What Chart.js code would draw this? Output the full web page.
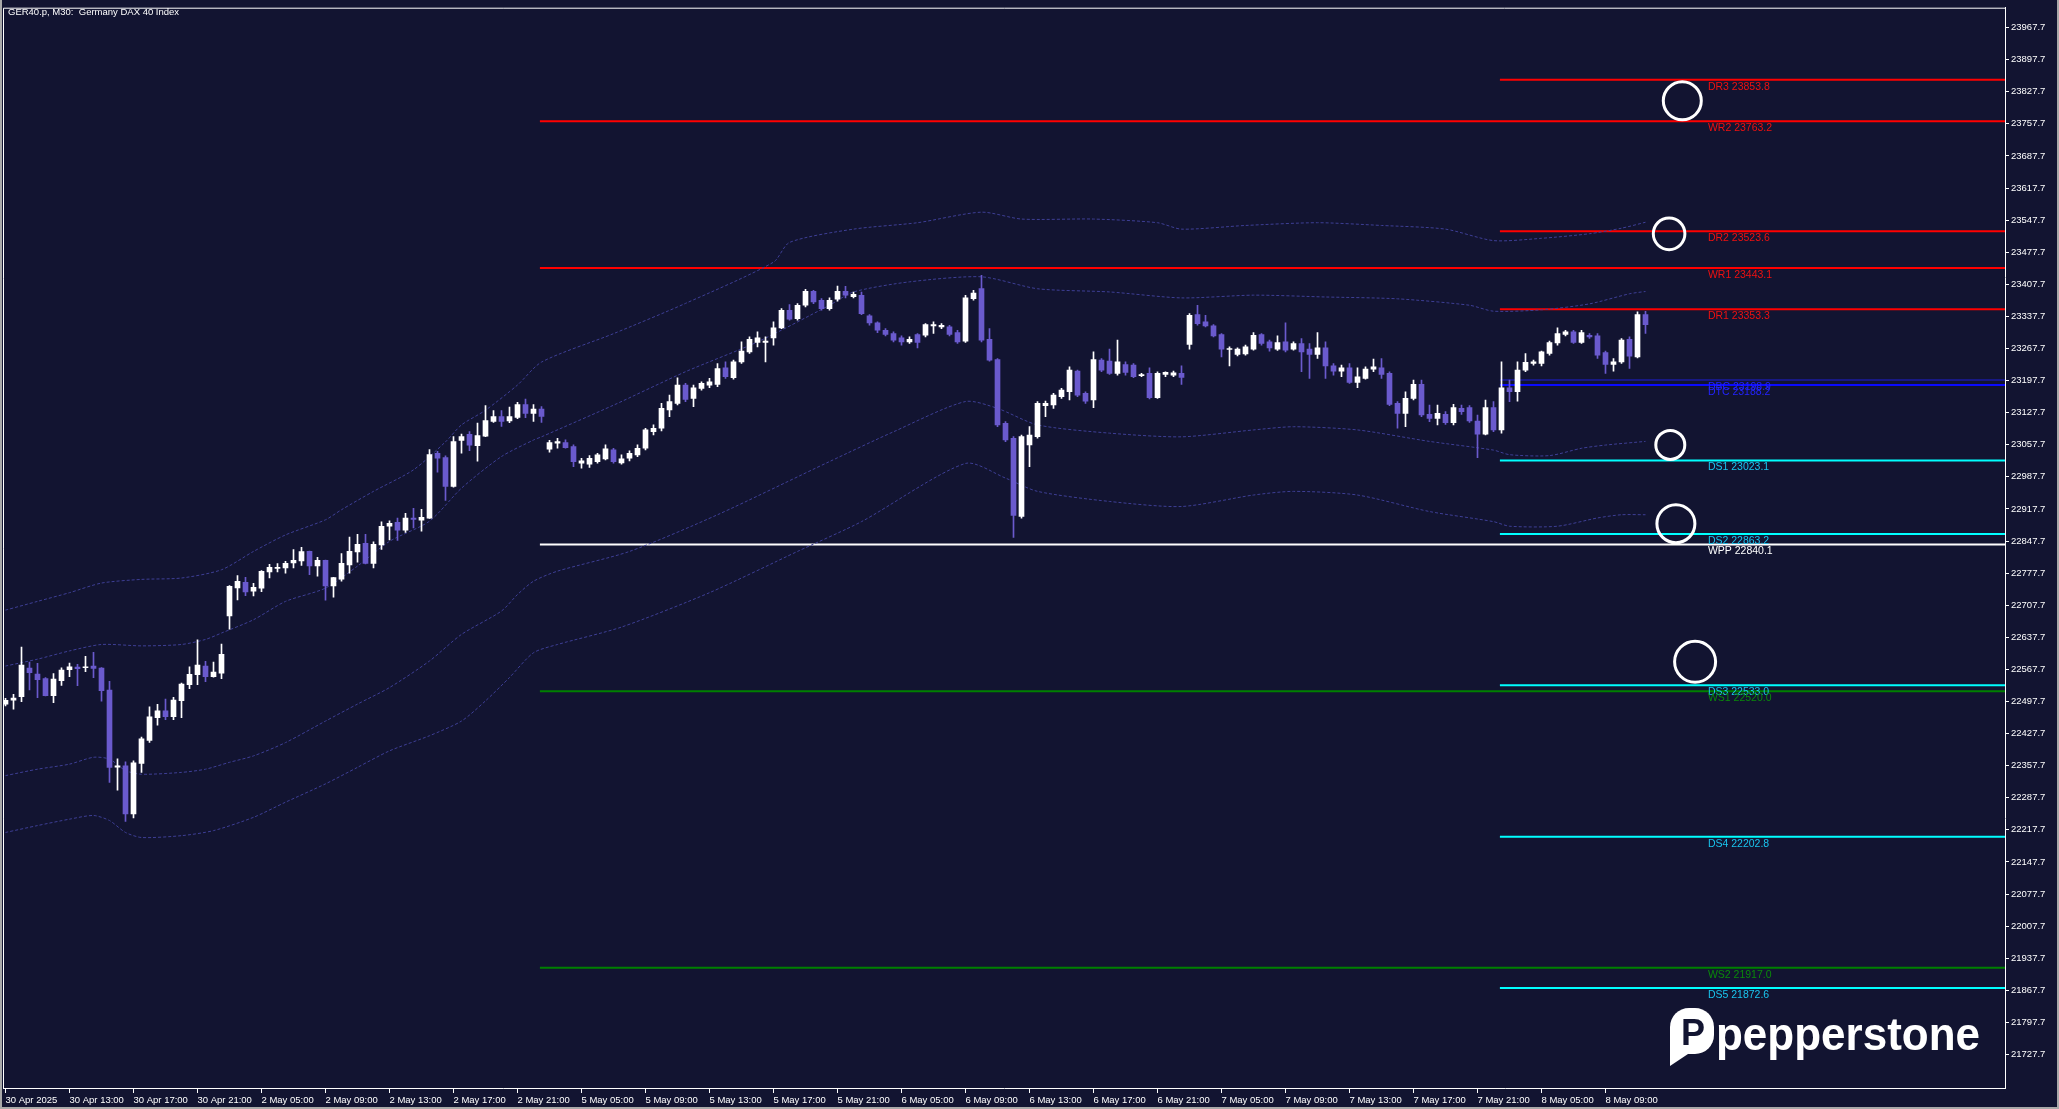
<!DOCTYPE html>
<html>
<head>
<meta charset="utf-8">
<script src="https://cdn.jsdelivr.net/npm/chart.js"></script>
<style>
html,body{margin:0;padding:0;background:#121431;overflow:hidden}
#wrap{position:relative;width:2059px;height:1109px}
canvas{display:block}
</style>
</head>
<body>
<div id="wrap"><canvas id="c" width="2059" height="1109"></canvas></div>
<script>
// ---------------- DATA ----------------
const chartTitle = 'GER40.p, M30:  Germany DAX 40 Index';
const logoText = 'pepperstone';

const xTickBars = [0,8,16,24,32,40,48,56,64,72,80,88,96,104,112,120,128,136,144,152,160,168,176,184,192,200];
const xTickLabels = ['30 Apr 2025','30 Apr 13:00','30 Apr 17:00','30 Apr 21:00','2 May 05:00','2 May 09:00','2 May 13:00','2 May 17:00','2 May 21:00','5 May 05:00','5 May 09:00','5 May 13:00','5 May 17:00','5 May 21:00','6 May 05:00','6 May 09:00','6 May 13:00','6 May 17:00','6 May 21:00','7 May 05:00','7 May 09:00','7 May 13:00','7 May 17:00','7 May 21:00','8 May 05:00','8 May 09:00'];
const yTickValues = [21727.7,21797.7,21867.7,21937.7,22007.7,22077.7,22147.7,22217.7,22287.7,22357.7,22427.7,22497.7,22567.7,22637.7,22707.7,22777.7,22847.7,22917.7,22987.7,23057.7,23127.7,23197.7,23267.7,23337.7,23407.7,23477.7,23547.7,23617.7,23687.7,23757.7,23827.7,23897.7,23967.7];

const opens = [22491.6,22500.3,22508.2,22570.6,22557.6,22547.4,22510.4,22543.1,22567.0,22572.8,22571.3,22575.0,22570.6,22522.7,22354.5,22357.4,22252.2,22362.5,22412.5,22462.6,22477.1,22464.7,22499.5,22534.4,22556.1,22575.0,22551.8,22559.7,22684.5,22745.4,22757.8,22738.2,22744.7,22780.2,22788.2,22788.9,22799.8,22804.2,22825.2,22793.3,22805.6,22749.8,22764.3,22795.5,22823.8,22842.6,22799.1,22839.0,22880.3,22888.3,22871.6,22897.7,22893.4,22897.7,23039.2,23029.7,22966.6,23067.4,23080.5,23055.9,23076.2,23108.8,23118.9,23109.5,23117.5,23145.1,23126.2,23135.6,23047.9,23060.9,23062.4,23053.7,23017.4,23015.2,23021.0,23026.8,23046.4,23018.1,23028.3,23035.5,23050.0,23086.3,23093.6,23133.4,23148.0,23187.8,23158.8,23180.6,23187.8,23189.3,23225.6,23203.8,23238.6,23260.4,23280.7,23280.7,23290.8,23312.6,23351.0,23332.9,23361.9,23392.4,23372.8,23354.7,23375.0,23392.4,23380.8,23383.7,23338.7,23323.5,23307.5,23300.3,23290.8,23282.1,23298.1,23296.6,23317.0,23314.8,23314.8,23302.4,23283.6,23376.4,23398.2,23287.9,23243.7,23104.4,23071.8,22901.4,23057.3,23075.4,23142.9,23144.3,23162.5,23173.3,23218.3,23169.7,23155.2,23242.2,23240.1,23213.2,23232.8,23231.4,23208.2,23213.2,23160.3,23211.0,23209.6,23213.2,23276.3,23341.6,23325.6,23317.0,23298.1,23265.4,23254.6,23256.0,23266.2,23298.1,23282.1,23266.2,23282.1,23266.2,23278.5,23266.2,23254.6,23269.1,23229.9,23218.3,23225.6,23193.6,23202.3,23222.7,23225.6,23213.2,23148.0,23126.2,23158.8,23189.3,23124.0,23115.3,23124.0,23105.9,23137.1,23138.5,23109.5,23080.5,23138.5,23090.0,23182.0,23173.3,23220.5,23235.0,23235.0,23256.7,23280.0,23298.1,23303.9,23280.7,23296.6,23295.2,23258.9,23232.8,23238.6,23287.9,23249.5,23341.6];
const highs = [22504.6,22513.3,22616.3,22583.7,22580.8,22549.6,22558.3,22571.3,22581.5,22578.6,22596.0,22604.7,22571.5,22541.6,22372.6,22366.1,22368.3,22419.8,22485.8,22491.6,22503.2,22506.8,22538.0,22573.5,22632.3,22585.1,22583.7,22622.8,22750.5,22772.3,22768.6,22755.6,22783.1,22796.9,22798.4,22803.4,22828.8,22833.9,22826.0,22812.1,22806.3,22768.5,22820.1,22856.4,22862.2,22862.2,22846.2,22889.8,22891.9,22897.7,22907.9,22918.8,22916.6,23047.1,23043.5,23033.4,23075.4,23081.2,23086.3,23105.2,23142.9,23132.0,23132.0,23140.0,23150.1,23157.4,23145.1,23140.7,23067.4,23071.8,23068.2,23057.3,23028.3,23034.1,23039.2,23057.3,23050.0,23035.5,23044.2,23057.3,23093.6,23101.0,23148.0,23166.1,23203.8,23191.5,23187.8,23195.1,23202.3,23235.0,23238.6,23242.2,23282.1,23293.0,23303.9,23293.0,23325.6,23354.7,23363.4,23365.5,23396.7,23394.6,23376.4,23377.9,23404.0,23403.3,23390.9,23390.9,23341.6,23325.6,23311.1,23303.9,23295.2,23293.0,23300.3,23322.0,23325.6,23322.0,23318.4,23307.5,23383.7,23394.6,23427.1,23311.1,23245.9,23108.0,23075.4,23079.0,23097.2,23151.6,23153.0,23169.7,23180.6,23227.7,23220.5,23173.3,23260.4,23245.9,23266.2,23285.8,23238.6,23235.0,23213.2,23225.6,23216.9,23216.9,23218.3,23229.9,23343.8,23361.9,23340.0,23319.8,23300.3,23271.2,23269.1,23274.9,23302.4,23300.3,23285.8,23295.2,23323.5,23282.1,23289.4,23278.5,23302.4,23282.1,23235.0,23231.4,23235.0,23225.6,23227.7,23244.4,23245.9,23216.9,23151.6,23173.3,23198.7,23198.7,23144.3,23144.3,23129.8,23145.8,23144.3,23142.9,23122.6,23155.2,23151.6,23238.6,23198.7,23238.6,23256.7,23242.2,23261.8,23283.6,23312.6,23307.5,23307.5,23307.5,23300.3,23300.3,23261.8,23245.9,23289.4,23293.0,23347.4,23348.9];
const lows = [22487.9,22480.7,22497.4,22522.7,22506.1,22509.7,22495.2,22532.9,22551.8,22532.2,22562.6,22549.6,22498.1,22321.1,22304.4,22236.3,22243.5,22342.9,22408.2,22445.9,22458.2,22458.2,22462.6,22525.6,22534.4,22540.9,22550.5,22547.4,22655.5,22719.3,22728.7,22728.0,22737.4,22767.2,22780.2,22777.3,22788.9,22794.7,22774.4,22770.8,22718.6,22725.1,22759.9,22777.3,22801.3,22797.6,22788.9,22829.5,22849.9,22849.1,22866.5,22876.0,22869.4,22897.0,22997.8,22936.2,22965.0,23039.2,23045.0,23021.8,23075.4,23106.6,23097.9,23105.9,23114.6,23116.8,23108.8,23106.6,23041.3,23050.0,23050.0,23010.1,23006.5,23008.0,23017.4,23024.6,23017.4,23015.2,23022.5,23031.9,23046.4,23079.0,23087.8,23118.9,23144.3,23151.6,23140.7,23177.0,23182.0,23184.2,23202.3,23200.9,23235.0,23256.7,23271.2,23238.6,23274.9,23311.1,23329.3,23329.3,23358.3,23365.5,23351.0,23351.0,23370.6,23377.9,23377.9,23341.6,23318.4,23302.4,23295.2,23282.1,23274.9,23278.5,23269.1,23293.0,23300.3,23311.1,23295.2,23278.5,23280.7,23372.8,23282.1,23240.1,23097.2,23064.5,22855.7,22897.7,23010.1,23071.8,23118.9,23137.1,23158.8,23155.2,23162.5,23148.0,23138.5,23216.9,23211.0,23209.6,23209.6,23203.8,23206.0,23157.4,23158.8,23206.0,23206.0,23189.3,23266.2,23318.4,23314.8,23293.0,23249.5,23229.9,23251.7,23253.1,23264.0,23274.9,23261.8,23263.3,23260.4,23264.0,23216.9,23202.3,23245.9,23202.3,23209.6,23206.0,23191.5,23182.0,23200.9,23216.9,23202.3,23142.9,23093.6,23097.2,23155.2,23118.9,23108.0,23100.8,23102.3,23100.8,23124.0,23106.6,23029.7,23079.0,23086.3,23082.7,23151.6,23153.0,23216.9,23231.4,23229.9,23253.1,23274.9,23295.2,23278.5,23278.5,23289.4,23245.9,23213.2,23218.3,23235.0,23224.1,23247.3,23300.3];
const closes = [22500.3,22505.3,22577.1,22560.5,22545.2,22510.4,22546.7,22566.3,22573.5,22569.2,22572.8,22569.9,22521.3,22353.7,22357.4,22252.2,22363.9,22416.2,22464.0,22477.1,22464.7,22501.0,22535.8,22556.8,22577.1,22551.8,22561.9,22600.3,22749.0,22759.9,22736.7,22746.9,22781.7,22790.4,22790.4,22799.1,22805.6,22824.5,22793.3,22805.6,22749.8,22767.9,22799.1,22825.2,22840.4,22799.1,22840.4,22879.6,22886.1,22871.6,22897.7,22894.8,22899.2,23036.3,23028.3,22966.6,23064.5,23075.4,23056.6,23077.6,23110.2,23118.9,23108.8,23118.9,23145.1,23126.2,23135.6,23119.7,23062.4,23064.5,23051.5,23021.0,23022.5,23028.3,23035.5,23048.6,23021.0,23026.8,23039.2,23050.0,23090.0,23093.6,23137.1,23151.6,23187.8,23156.7,23182.0,23191.5,23195.1,23224.1,23206.0,23238.6,23261.8,23287.9,23290.8,23283.6,23312.6,23351.0,23331.4,23361.9,23392.4,23369.2,23354.7,23372.8,23392.4,23383.7,23385.8,23343.8,23323.5,23307.5,23298.1,23285.8,23282.1,23287.9,23280.7,23319.8,23319.8,23318.4,23298.1,23282.1,23377.9,23388.7,23285.8,23242.2,23100.8,23068.2,22903.5,23075.4,23079.0,23148.0,23148.0,23166.1,23177.0,23220.5,23166.1,23153.0,23243.7,23220.5,23213.2,23238.6,23215.4,23206.0,23211.0,23160.3,23213.2,23215.4,23214.7,23204.5,23340.2,23322.0,23317.0,23295.2,23266.2,23267.6,23266.2,23271.2,23296.6,23278.5,23269.1,23280.7,23264.0,23278.5,23260.4,23254.6,23269.1,23229.9,23218.3,23225.6,23193.6,23206.0,23222.7,23227.7,23211.0,23145.8,23126.2,23158.8,23189.3,23122.6,23115.3,23126.2,23105.9,23138.5,23129.8,23109.5,23080.5,23138.5,23090.0,23182.0,23173.3,23220.5,23237.2,23238.6,23260.4,23280.7,23300.3,23303.9,23280.7,23302.4,23293.0,23253.1,23232.8,23238.6,23285.8,23250.9,23341.6,23319.8];

// Bollinger-type dashed bands: [bar, value]
const bandUpper2 = [[0,22697],[4,22716],[8,22735],[12,22756],[17,22764],[22,22767],[27,22785],[31,22825],[35,22861],[40,22894],[42,22916],[46,22956],[51,23003],[55,23064],[57,23101],[60,23133],[64,23188],[67,23238],[76,23300],[85,23366],[96,23456],[98,23499],[106,23528],[114,23542],[122,23565],[127,23550],[136,23550],[144,23542],[147,23528],[155,23536],[164,23542],[172,23536],[180,23528],[186,23503],[192,23508],[198,23518],[202,23530],[205,23543]];
const bandUpper1 = [[0,22575],[4,22590],[8,22608],[12,22622],[17,22619],[22,22622],[25,22633],[27,22647],[31,22676],[35,22716],[40,22745],[44,22793],[48,22847],[53,22891],[57,22963],[62,23032],[66,23068],[67,23075],[76,23144],[85,23217],[94,23282],[103,23362],[106,23391],[113,23413],[122,23424],[129,23398],[138,23391],[147,23378],[156,23384],[165,23380],[174,23376],[183,23362],[186,23349],[192,23352],[198,23365],[203,23387],[205,23392]];
const bandLower1 = [[0,22336],[4,22350],[8,22361],[11,22376],[13,22372],[15,22347],[17,22339],[22,22343],[25,22350],[28,22365],[31,22379],[35,22408],[40,22455],[44,22492],[48,22528],[53,22586],[57,22644],[62,22695],[64,22731],[66,22760],[69,22782],[78,22825],[89,22905],[103,23021],[111,23086],[120,23152],[124,23137],[129,23101],[138,23083],[147,23075],[156,23090],[161,23097],[169,23090],[178,23065],[186,23046],[188,23036],[193,23034],[197,23050],[200,23057],[205,23065]];
const bandLower2 = [[0,22212],[4,22227],[8,22241],[11,22249],[13,22238],[15,22212],[17,22201],[22,22205],[26,22216],[31,22245],[35,22278],[40,22318],[44,22354],[48,22390],[53,22423],[57,22455],[60,22499],[63,22550],[66,22604],[69,22622],[77,22660],[88,22735],[99,22825],[107,22890],[120,23017],[125,22985],[129,22956],[138,22934],[147,22923],[156,22948],[161,22956],[169,22948],[178,22912],[186,22890],[188,22880],[194,22880],[199,22898],[202,22905],[205,22905]];

// Pivot levels
const levelNames  = ['DR3','WR2','DR2','WR1','DR1','DBC','DTC','DS1','DS2','WPP','DS3','WS1','DS4','WS2','DS5'];
const levelValues = [23853.8,23763.2,23523.6,23443.1,23353.3,23198.9,23188.2,23023.1,22863.2,22840.1,22533.0,22520.0,22202.8,21917.0,21872.6];

// Circle annotations: [bar, value]
const circleBars   = [209.6, 207.95, 208.1, 208.8, 211.2];
const circleValues = [23808, 23517.7, 23057.4, 22885.4, 22584.3];

// ---------------- STYLE ----------------
const BG = '#121431';
const FONT = "'Liberation Sans', Arial, sans-serif";
const bullColor = '#ffffff', bearColor = '#6a5acd';
const X_MIN = -0.3125, X_MAX = 249.9375;
const Y_MIN = 21654.6, Y_MAX = 24011.0;
const dailyStart = 186.8, weeklyStart = 66.8;
const circleRadii = [19, 15.8, 14.5, 19, 20.5];

function levelStyle(name){
  if (name === 'WPP') return {line:'#ffffff', text:'#ffffff', w:2};
  if (name === 'DBC') return {line:'#1c1cd8', text:'#2323ff', w:1};
  if (name === 'DTC') return {line:'#0a0aff', text:'#2323ff', w:2};
  if (name[1] === 'R') return {line:'#ff0000', text:'#f01010', w:2};
  if (name.startsWith('WS')) return {line:'#008000', text:'#0a8a0a', w:2};
  return {line:'#00ffff', text:'#19c4ee', w:2};
}

const idx = opens.map((_, i) => i);
const candleColors = idx.map(i => closes[i] >= opens[i] ? bullColor : bearColor);
const bodies = idx.map(i => ({x: i, y: [opens[i], closes[i]]}));
const wicks  = idx.map(i => ({x: i, y: [lows[i], highs[i]]}));

function bandDs(arr){
  return {type:'line', data: arr.map(p => ({x:p[0], y:p[1]})), borderColor:'#3e3f95', borderWidth:1,
    borderDash:[3,2], pointRadius:0, tension:0.25, fill:false, order:3};
}
const levelDatasets = levelNames.map((n, k) => {
  const st = levelStyle(n);
  const start = n[0] === 'W' ? weeklyStart : dailyStart;
  return {type:'line', data:[{x:start, y:levelValues[k]}, {x:X_MAX, y:levelValues[k]}],
    borderColor: st.line, borderWidth: st.w, pointRadius:0, fill:false, order:4};
});

const decorPlugin = {
  id:'decor',
  afterDatasetsDraw(chart){
    const ctx = chart.ctx, xs = chart.scales.x, ys = chart.scales.y;
    ctx.save();
    ctx.font = '10.5px ' + FONT;
    ctx.textBaseline = 'middle';
    ctx.textAlign = 'left';
    const lx = xs.getPixelForValue(212.8);
    levelNames.forEach((n, k) => {
      const y = ys.getPixelForValue(levelValues[k]);
      ctx.fillStyle = levelStyle(n).text;
      ctx.fillText(n + ' ' + levelValues[k].toFixed(1), lx, y + 7);
    });
    ctx.restore();
  },
  afterDraw(chart){
    const ctx = chart.ctx, a = chart.chartArea;
    ctx.save();
    // plot frame (top & left; right/bottom drawn by axes)
    ctx.strokeStyle = '#ffffff';
    ctx.lineWidth = 1;
    ctx.beginPath();
    ctx.moveTo(a.left + 0.5, a.bottom);
    ctx.lineTo(a.left + 0.5, a.top + 0.5);
    ctx.lineTo(a.right, a.top + 0.5);
    ctx.stroke();
    // window border
    ctx.fillStyle = '#a9a9a9';
    ctx.fillRect(0, 0, 2, 1109);
    ctx.fillRect(2057, 0, 2, 1109);
    ctx.fillRect(0, 1107, 2059, 2);
    // title
    ctx.fillStyle = '#ffffff';
    ctx.font = '9.5px ' + FONT;
    ctx.textBaseline = 'middle';
    ctx.fillText(chartTitle, 8, 12.5);
    // logo icon
    ctx.fillStyle = '#ffffff';
    ctx.beginPath();
    ctx.roundRect(1670, 1008, 44, 46, 19);
    ctx.fill();
    ctx.beginPath();
    ctx.moveTo(1670, 1030); ctx.lineTo(1670, 1066); ctx.lineTo(1694, 1050); ctx.closePath();
    ctx.fill();
    ctx.fillStyle = BG;
    ctx.font = 'bold 36px ' + FONT;
    ctx.textAlign = 'center';
    ctx.textBaseline = 'alphabetic';
    ctx.fillText('P', 1693, 1045);
    // logo text
    ctx.fillStyle = '#ffffff';
    ctx.textAlign = 'left';
    ctx.font = 'bold 47px ' + FONT;
    const w = ctx.measureText(logoText).width;
    ctx.translate(1716, 1050);
    ctx.scale(264 / w, 1);
    ctx.fillText(logoText, 0, 0);
    ctx.restore();
  }
};

new Chart(document.getElementById('c'), {
  type: 'bar',
  data: {
    datasets: [
      {type:'line', data: circleBars.map((b, i) => ({x:b, y:circleValues[i]})), showLine:false,
        pointRadius: circleRadii, pointHoverRadius: circleRadii, pointBorderWidth:3,
        pointBorderColor:'#ffffff', pointBackgroundColor:'rgba(0,0,0,0)', order:0, clip:false},
      {type:'bar', data: bodies, backgroundColor: candleColors, barThickness:5, grouped:false,
        minBarLength:1, borderWidth:0, order:1},
      {type:'bar', data: wicks, backgroundColor: candleColors, barThickness:1, grouped:false,
        borderWidth:0, order:2},
      bandDs(bandUpper2), bandDs(bandUpper1), bandDs(bandLower1), bandDs(bandLower2),
      ...levelDatasets
    ]
  },
  options: {
    responsive:false, animation:false, events:[],
    layout:{autoPadding:false, padding:{left:3, top:5, right:0, bottom:0}},
    plugins:{legend:{display:false}, tooltip:{enabled:false}, title:{display:false}},
    scales:{
      x:{
        type:'linear', position:'bottom', min:X_MIN, max:X_MAX, offset:false,
        afterFit(s){ s.height = 21; },
        afterBuildTicks(s){ s.ticks = xTickBars.map(v => ({value:v})); },
        grid:{display:true, drawOnChartArea:false, drawTicks:true, tickLength:5, color:'#ffffff', offset:false},
        border:{display:true, color:'#ffffff', width:1},
        ticks:{color:'#ffffff', font:{size:9.5, family:FONT}, align:'start', padding:2,
          autoSkip:false, maxRotation:0, minRotation:0,
          callback:(v, i) => xTickLabels[i]}
      },
      y:{
        type:'linear', position:'right', min:Y_MIN, max:Y_MAX,
        afterFit(s){ s.width = 54; },
        afterBuildTicks(s){ s.ticks = yTickValues.map(v => ({value:v})); },
        grid:{display:true, drawOnChartArea:false, drawTicks:true, tickLength:4, color:'#ffffff'},
        border:{display:true, color:'#ffffff', width:1},
        ticks:{color:'#ffffff', font:{size:9.5, family:FONT}, padding:2,
          callback:(v) => Number(v).toFixed(1)}
      }
    }
  },
  plugins:[decorPlugin]
});
</script>
</body>
</html>
